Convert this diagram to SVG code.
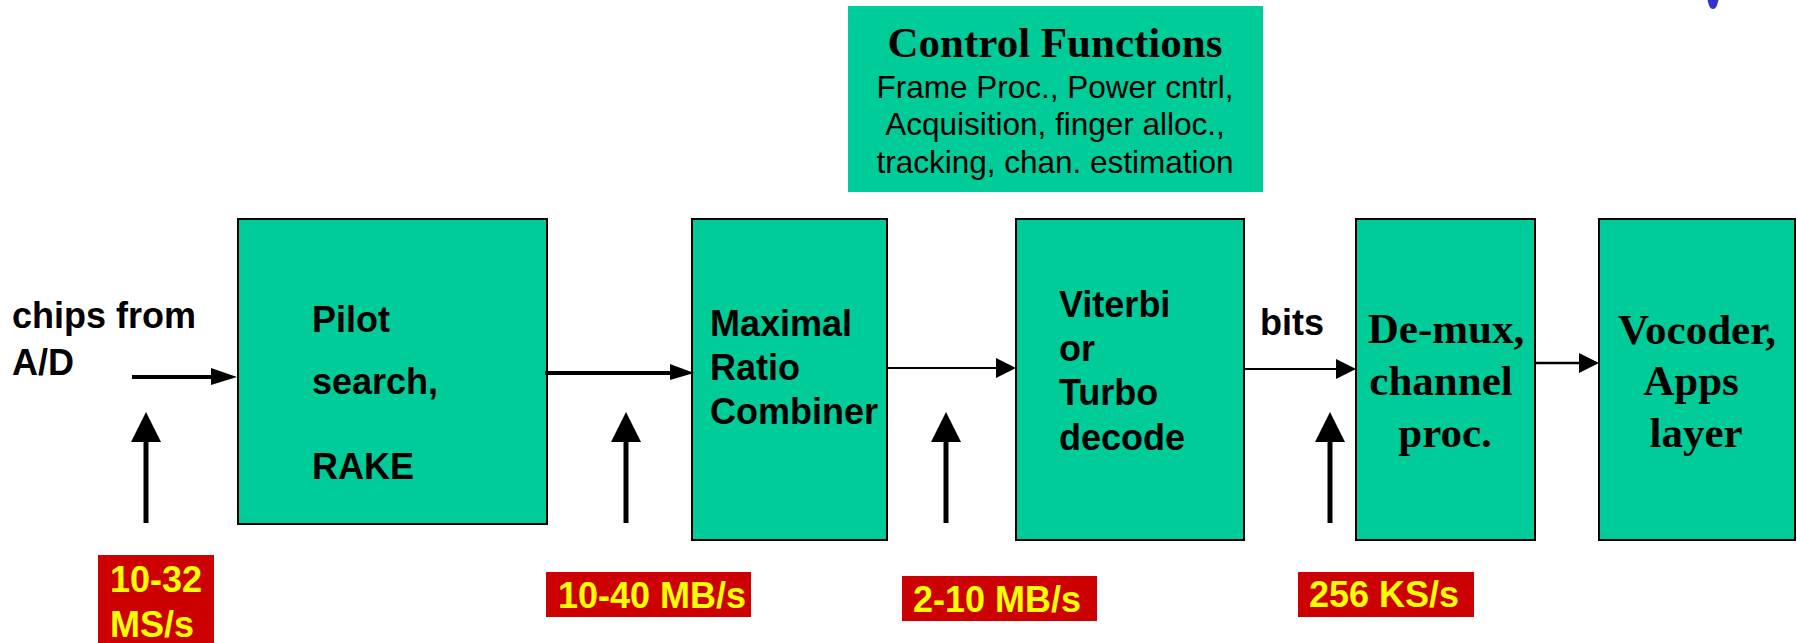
<svg xmlns="http://www.w3.org/2000/svg" width="1797" height="643" viewBox="0 0 1797 643">
  <style>
    .box { fill: #00CC99; stroke: #000000; stroke-width: 2; }
    .ctrl { fill: #00CC99; }
    .lbl { font-family: "Liberation Sans", Arial, sans-serif; font-weight: bold; font-size: 36px; fill: #000000; }
    .serif { font-family: "Liberation Serif", "Times New Roman", serif; font-weight: bold; font-size: 43px; fill: #000000; text-anchor: middle; }
    .small { font-family: "Liberation Sans", Arial, sans-serif; font-size: 31.5px; fill: #000000; text-anchor: middle; }
    .rate { fill: #CC0000; }
    .ratetxt { font-family: "Liberation Sans", Arial, sans-serif; font-weight: bold; font-size: 36px; fill: #FFFF00; }
    .wire { stroke: #000000; fill: none; }
    .head { fill: #000000; stroke: none; }
  </style>

  <!-- corner of logo at top right -->
  <path d="M1707.5 0 L1718.5 0 C1717.5 4 1716.5 9 1713 9 C1709.5 9 1708.5 4 1707.5 0 Z" fill="#3333CC"/>

  <!-- control functions block -->
  <g id="control">
    <rect class="ctrl" x="848" y="6" width="415" height="186"/>
    <text class="serif" x="1055" y="57" font-size="42">Control Functions</text>
    <text class="small" x="1055" y="98">Frame Proc., Power cntrl,</text>
    <text class="small" x="1055" y="135">Acquisition, finger alloc.,</text>
    <text class="small" x="1055" y="173">tracking, chan. estimation</text>
  </g>

  <!-- input label -->
  <g id="input">
    <text class="lbl" x="12" y="328">chips from</text>
    <text class="lbl" x="12" y="375">A/D</text>
  </g>

  <g id="pilot">
    <rect class="box" x="238" y="219" width="309" height="305"/>
    <text class="lbl" x="312" y="332">Pilot</text>
    <text class="lbl" x="312" y="394">search,</text>
    <text class="lbl" x="312" y="479">RAKE</text>
  </g>

  <g id="mrc">
    <rect class="box" x="692" y="219" width="195" height="321"/>
    <text class="lbl" x="710" y="336">Maximal</text>
    <text class="lbl" x="710" y="380">Ratio</text>
    <text class="lbl" x="710" y="424">Combiner</text>
  </g>

  <g id="viterbi">
    <rect class="box" x="1016" y="219" width="228" height="321"/>
    <text class="lbl" x="1059" y="317">Viterbi</text>
    <text class="lbl" x="1059" y="361">or</text>
    <text class="lbl" x="1059" y="405">Turbo</text>
    <text class="lbl" x="1059" y="450">decode</text>
  </g>

  <g id="demux">
    <rect class="box" x="1356" y="219" width="179" height="321"/>
    <text class="serif" x="1446" y="343">De-mux,</text>
    <text class="serif" x="1441" y="395">channel</text>
    <text class="serif" x="1445" y="447">proc.</text>
  </g>

  <g id="vocoder">
    <rect class="box" x="1599" y="219" width="196" height="321"/>
    <text class="serif" x="1697" y="344">Vocoder,</text>
    <text class="serif" x="1691" y="395">Apps</text>
    <text class="serif" x="1696" y="447">layer</text>
  </g>

  <!-- data-rate tags -->
  <g id="rate1">
    <rect class="rate" x="98" y="555" width="116" height="88"/>
    <text class="ratetxt" x="110" y="592">10-32</text>
    <text class="ratetxt" x="110" y="637">MS/s</text>
  </g>
  <g id="rate2">
    <rect class="rate" x="546" y="572" width="205" height="45"/>
    <text class="ratetxt" x="558" y="608">10-40 MB/s</text>
  </g>
  <g id="rate3">
    <rect class="rate" x="902" y="576" width="195" height="45"/>
    <text class="ratetxt" x="913" y="612">2-10 MB/s</text>
  </g>
  <g id="rate4">
    <rect class="rate" x="1298" y="572" width="176" height="45"/>
    <text class="ratetxt" x="1309" y="607">256 KS/s</text>
  </g>

  <!-- connectors -->
  <g id="connectors">
    <!-- chips into pilot search -->
    <line class="wire" x1="132" y1="377" x2="214" y2="377" stroke-width="4"/>
    <polygon class="head" points="211,368 237,377 211,385"/>
    <!-- pilot search to combiner -->
    <line class="wire" x1="545" y1="373" x2="672" y2="373" stroke-width="4"/>
    <polygon class="head" points="670,364 694,373 670,380"/>
    <!-- combiner to decoder -->
    <line class="wire" x1="887" y1="368" x2="998" y2="368" stroke-width="2"/>
    <polygon class="head" points="996,358 1016,368 996,378"/>
    <text class="lbl" x="1260" y="335">bits</text>
    <!-- decoder to de-mux -->
    <line class="wire" x1="1244" y1="369" x2="1338" y2="369" stroke-width="2"/>
    <polygon class="head" points="1336,359 1356,369 1336,379"/>
    <!-- de-mux to vocoder -->
    <line class="wire" x1="1535" y1="363" x2="1581" y2="363" stroke-width="2.5"/>
    <polygon class="head" points="1579,353 1599,363 1579,373"/>

    <!-- rate pointers -->
    <line class="wire" x1="146" y1="523" x2="146" y2="440" stroke-width="5"/>
    <polygon class="head" points="146,412 161,442 131,442"/>
    <line class="wire" x1="626" y1="523" x2="626" y2="440" stroke-width="5"/>
    <polygon class="head" points="626,412 641,442 611,442"/>
    <line class="wire" x1="946" y1="523" x2="946" y2="440" stroke-width="5"/>
    <polygon class="head" points="946,412 961,442 931,442"/>
    <line class="wire" x1="1330" y1="523" x2="1330" y2="440" stroke-width="5"/>
    <polygon class="head" points="1330,412 1345,442 1315,442"/>
  </g>
</svg>
